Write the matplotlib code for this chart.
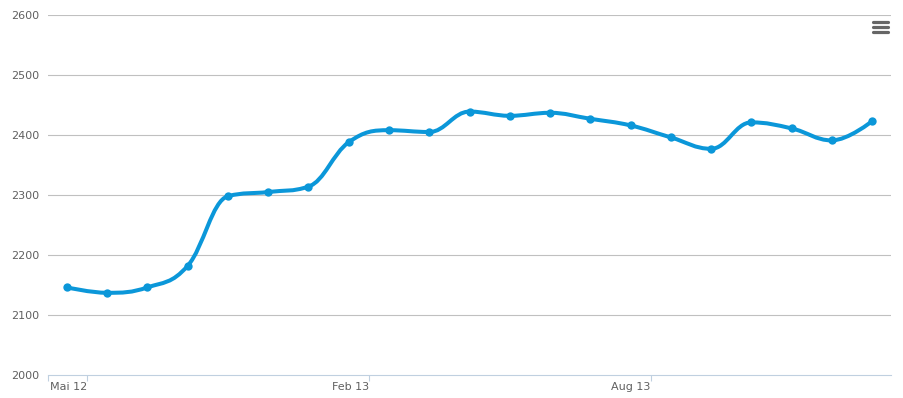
import matplotlib.pyplot as plt
from matplotlib.path import Path
from matplotlib.patches import PathPatch
from matplotlib.lines import Line2D

# Daten
werte = [2146, 2137, 2146, 2182, 2298, 2305, 2314, 2388, 2408, 2405, 2439,
         2432, 2437, 2427, 2416, 2396, 2377, 2421, 2411, 2391, 2423]
x_ticks = [0.5, 7.5, 14.5]
x_labels = ['Mai 12', 'Feb 13', 'Aug 13']
y_ticks = [2000, 2100, 2200, 2300, 2400, 2500, 2600]

farbe = '#0b97d9'
xs = list(range(len(werte)))


# Spline wie Highcharts (Kontrollpunkte mit smoothing 1.5)
def kontrollpunkte(xs, ys):
    n = len(xs)
    links, rechts = [], []
    for i in range(n):
        x, y = xs[i], ys[i]
        if i == 0 or i == n - 1:
            links.append((x, y))
            rechts.append((x, y))
            continue
        lx, ly = xs[i - 1], ys[i - 1]
        nx, ny = xs[i + 1], ys[i + 1]
        lcx = (1.5 * x + lx) / 2.5
        lcy = (1.5 * y + ly) / 2.5
        rcx = (1.5 * x + nx) / 2.5
        rcy = (1.5 * y + ny) / 2.5
        corr = (rcy - lcy) * (rcx - x) / (rcx - lcx) + y - rcy
        lcy += corr
        rcy += corr
        if lcy > ly and lcy > y:
            lcy = max(ly, y)
            rcy = 2 * y - lcy
        elif lcy < ly and lcy < y:
            lcy = min(ly, y)
            rcy = 2 * y - lcy
        if rcy > ny and rcy > y:
            rcy = max(ny, y)
            lcy = 2 * y - rcy
        elif rcy < ny and rcy < y:
            rcy = min(ny, y)
            lcy = 2 * y - rcy
        links.append((lcx, lcy))
        rechts.append((rcx, rcy))
    verts = [(xs[0], ys[0])]
    codes = [Path.MOVETO]
    for i in range(1, n):
        verts += [rechts[i - 1], links[i], (xs[i], ys[i])]
        codes += [Path.CURVE4] * 3
    return Path(verts, codes)


fig = plt.figure(figsize=(9.04, 3.98), dpi=100)
ax = fig.add_axes([48 / 904, 23 / 398, 843 / 904, 360 / 398])

ax.set_xlim(-0.47, 20.47)
ax.set_ylim(2000, 2600)

ax.add_patch(PathPatch(kontrollpunkte(xs, werte), fill=False, edgecolor=farbe,
                       lw=2.9, capstyle='round', joinstyle='round', zorder=3))
ax.plot(xs, werte, 'o', color=farbe, markersize=6, markeredgewidth=0, zorder=4)

# Gitter und Achsen
ax.set_yticks(y_ticks)
ax.set_yticklabels([str(v) for v in y_ticks])
for v in y_ticks[1:]:
    ax.axhline(v, color='#c0c0c0', lw=0.8, zorder=1)
ax.set_xticks([-0.47] + x_ticks)
ax.set_xticklabels([''] + x_labels)
for lab in ax.get_xticklabels():
    lab.set_horizontalalignment('right')

for s in ['top', 'right', 'left']:
    ax.spines[s].set_visible(False)
ax.spines['bottom'].set_color('#c0d0e0')
ax.spines['bottom'].set_linewidth(0.8)
ax.tick_params(axis='y', length=0, pad=6, labelsize=8, labelcolor='#606060')
ax.tick_params(axis='x', length=4, width=0.8, color='#c0d0e0', pad=1,
               labelsize=8, labelcolor='#606060')

# Menü-Symbol oben rechts
for yy in [22, 27, 32]:
    fig.add_artist(Line2D([873 / 904, 888 / 904], [1 - yy / 398, 1 - yy / 398],
                          color='#666666', lw=2.3, solid_capstyle='round'))

fig.savefig('out.png', dpi=100)
